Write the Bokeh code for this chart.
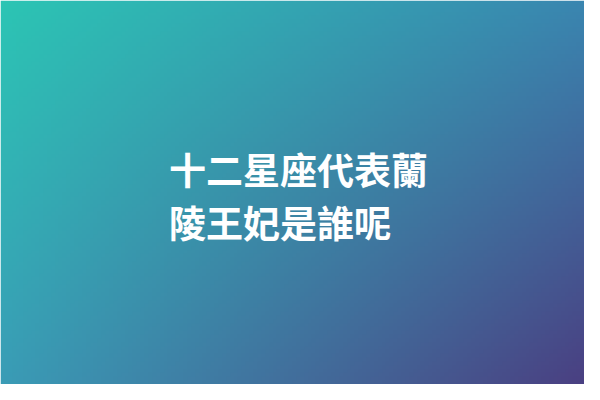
import numpy as np
from bokeh.plotting import figure
from bokeh.models import Range1d
from bokeh.core.properties import value
from bokeh.embed import file_html
from bokeh.resources import INLINE

# Text content
lines = ["十二星座代表蘭", "陵王妃是誰呢"]
line_x = [173, 173]
line_y = [176, 231]

# Corner colours of the background gradient (TL, TR, BL, BR)
corner_tl = (44, 197, 180)
corner_tr = (58, 134, 176)
corner_bl = (58, 156, 182)
corner_br = (74, 64, 130)

W, H = 600, 400
p = figure(width=584, height=384, output_backend="svg", toolbar_location=None,
           x_range=Range1d(0, W), y_range=Range1d(H, 0),
           min_border=0, outline_line_color=None)
p.axis.visible = False
p.grid.visible = False
p.background_fill_color = None
p.border_fill_color = None

nx, ny = 150, 100
u = np.linspace(0, 1, nx)[None, :]
v = np.linspace(1, 0, ny)[:, None]  # rendered rows run bottom-to-top
img = np.zeros((ny, nx), dtype=np.uint32)
view = img.view(dtype=np.uint8).reshape((ny, nx, 4))
for c in range(3):
    tl, tr, bl, br = corner_tl[c], corner_tr[c], corner_bl[c], corner_br[c]
    val = (1 - u) * (1 - v) * tl + u * (1 - v) * tr + (1 - u) * v * bl + u * v * br
    view[:, :, c] = np.clip(val, 0, 255).astype(np.uint8)
view[:, :, 3] = 255
p.image_rgba(image=[img], x=0, y=0, dw=W, dh=H, origin="top_left")

p.text(x=line_x, y=line_y, text=lines, text_color="white",
       text_font=value("Noto Sans CJK TC"), text_font_style="bold",
       text_font_size="37px", text_baseline="middle", text_align="left")

open("out.html", "w").write(file_html(p, INLINE))
